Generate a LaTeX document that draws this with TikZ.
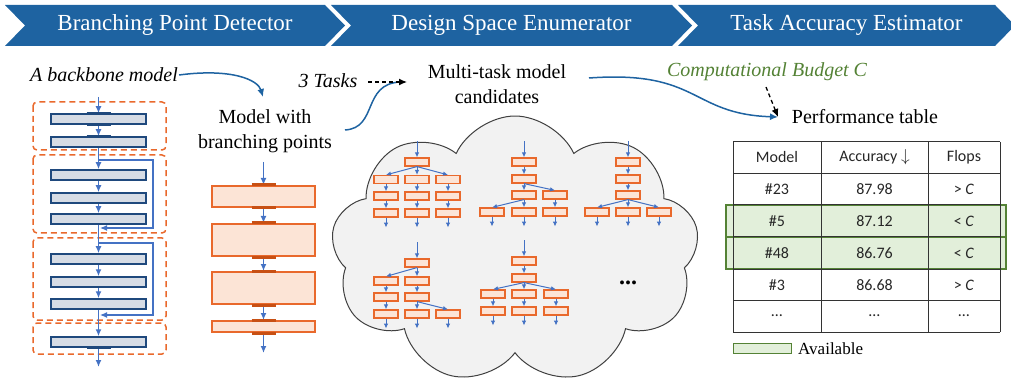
\documentclass[tikz,border=0pt]{standalone}
\usepackage{fontspec}
\setmainfont{Liberation Serif}[ItalicFont={Liberation Serif Italic}]
\newfontfamily\tablefont{Carlito}
\usepackage{tikz}
\usetikzlibrary{shapes,arrows}
\usetikzlibrary{arrows.meta}
\definecolor{headblue}{RGB}{30,99,161}
\definecolor{flowblue}{RGB}{68,114,196}
\definecolor{barfill}{RGB}{214,220,229}
\definecolor{bardraw}{RGB}{31,73,125}
\definecolor{boxfill}{RGB}{252,228,214}
\definecolor{boxdraw}{RGB}{233,105,44}
\definecolor{boxmark}{RGB}{200,80,20}
\definecolor{availfill}{RGB}{226,239,218}
\definecolor{availdraw}{RGB}{84,130,53}
\definecolor{cloudfill}{RGB}{242,242,242}
\tikzset{
  headtext/.style={text=white, font=\fontsize{23}{28}\selectfont},
  bodytext/.style={font=\fontsize{20}{25}\selectfont, align=center, inner sep=1pt},
  stagebox/.style={draw=boxdraw, line width=1.5pt, rounded corners=4pt, dash pattern=on 6pt off 4pt},
  bbbar/.style={rectangle, draw=bardraw, fill=barfill, line width=1.5pt, minimum width=95pt, minimum height=10pt, inner sep=0pt},
  bbmark/.style={draw=bardraw, line width=3pt},
  bpbox/.style={rectangle, draw=boxdraw, fill=boxfill, line width=2pt, minimum width=103pt, inner sep=0pt},
  bpmark/.style={draw=boxmark, line width=3pt},
  minibox/.style={rectangle, draw=boxdraw, fill=boxfill, line width=1.2pt, minimum width=24pt, minimum height=8pt, inner sep=0pt},
  flow/.style={draw=flowblue, line width=1.5pt, -{Latex[length=7pt,width=6pt]}},
  skipflow/.style={draw=flowblue, line width=1.2pt, -{Latex[length=7pt,width=6pt]}},
  miniflow/.style={draw=flowblue, line width=1pt, -{Latex[length=5pt,width=4.5pt]}},
  curvearrow/.style={draw=headblue, line width=1.5pt, -{Latex[length=8pt,width=7pt]}},
  dasharrow/.style={draw=black, line width=1.3pt, dash pattern=on 4pt off 3pt, -{Latex[length=8pt,width=7pt]}},
  tablerule/.style={draw=black!80, line width=1pt},
  cell/.style={font=\tablefont\fontsize{16}{19}\selectfont, text=black!85, inner sep=1pt},
}
\newcommand{\stagehead}[4] {\fill [headblue] (#1,5) -- (#2,5) -- (#2+20,25.5) -- (#2,46) -- (#1,46) -- (#1+20,25.5) -- cycle; \node at ({(#1+#2)/2+10},25.5) (#4) [headtext] {#3};}
\newcommand{\bbbar}[2] {\node at (#1) (#2) [bbbar] {};}
\newcommand{\bpbox}[3] {\node at (#1) (#2) [bpbox, minimum height=#3] {};}
\newcommand{\minibox}[2] {\node at (#1) (#2) [minibox] {};}
\newcommand{\minilink}[2] {\draw [miniflow] (#1.south) -- (#2.north);}
\newcommand{\miniin}[1] {\coordinate (#1i) at ([yshift=16pt]#1.north); \draw [miniflow] (#1i) -- (#1.north);}
\newcommand{\miniout}[1] {\coordinate (#1o) at ([yshift=-10pt]#1.south); \draw [miniflow] (#1.south) -- (#1o);}

\begin{document}
\begin{tikzpicture}[x=1pt, y=-1pt]
\useasboundingbox (0,0) rectangle (1011,387);

% stage headers
\stagehead {5} {325} {Branching Point Detector} {detector};
\stagehead {331} {672} {Design Space Enumerator} {enumerator};
\stagehead {678} {995} {Task Accuracy Estimator} {estimator};

% backbone model
\node at (104,75) (backbone) [bodytext, font=\fontsize{20}{25}\selectfont\itshape] {A backbone model};
\draw [stagebox] (33,102) rectangle (166,150);
\draw [stagebox] (33,155) rectangle (166,233);
\draw [stagebox] (33,238) rectangle (166,320);
\draw [stagebox] (33,323) rectangle (166,354);

\bbbar {98.5,119} {b1};
\bbbar {98.5,142} {b2};
\bbbar {98.5,175} {b3};
\bbbar {98.5,198} {b4};
\bbbar {98.5,219} {b5};
\bbbar {98.5,259} {b6};
\bbbar {98.5,282} {b7};
\bbbar {98.5,304} {b8};
\bbbar {98.5,342} {b9};

\coordinate (bbin) at (98.5,97);
\coordinate (bbout) at (98.5,367);
\draw [flow] (bbin) -- (b1);
\foreach \a/\b in {b1/b2,b2/b3,b3/b4,b4/b5,b5/b6,b6/b7,b7/b8,b8/b9}
  \draw [flow] (\a) -- (\b);
\draw [flow] (b9) -- (bbout);

% skip connections
\coordinate (skipa) at (98.5,160);
\coordinate (skipb) at (100,228);
\coordinate (skipc) at (98.5,243);
\coordinate (skipd) at (100,315);
\draw [skipflow] (skipa) -- (153,160) -- (153,228) -- (skipb);
\draw [skipflow] (skipc) -- (153,243) -- (153,315) -- (skipd);

\draw [bbmark] ([xshift=-12pt]b1.north) -- ([xshift=12pt]b1.north);
\draw [bbmark] ([xshift=-12pt]b1.south) -- ([xshift=12pt]b1.south);
\draw [bbmark] ([xshift=-12pt]b2.north) -- ([xshift=12pt]b2.north);
\draw [bbmark] ([xshift=-12pt]b9.south) -- ([xshift=12pt]b9.south);

% model with branching points
\node at (265,131) (branch) [bodytext] {Model with\\branching points};
\coordinate (tobranch) at (263,97);
\draw [curvearrow] (backbone.east) .. controls (232,68) and (258,80) .. (tobranch);

\bpbox {263.5,196.5} {m1} {21pt};
\bpbox {263.5,240} {m2} {32pt};
\bpbox {263.5,288} {m3} {32pt};
\bpbox {263.5,326.5} {m4} {11pt};
\coordinate (bpin) at (263.5,162);
\coordinate (bpout) at (263.5,353);
\draw [flow] (bpin) -- (m1);
\draw [flow] (m1) -- (m2);
\draw [flow] (m2) -- (m3);
\draw [flow] (m3) -- (m4);
\draw [flow] (m4) -- (bpout);
\foreach \m in {m1,m2,m3,m4} {
  \draw [bpmark] ([xshift=-12pt]\m.north) -- ([xshift=12pt]\m.north);
  \draw [bpmark] ([xshift=-12pt]\m.south) -- ([xshift=12pt]\m.south);
}

% tasks and candidates
\node at (328,81) (tasks) [bodytext, font=\fontsize{20}{25}\selectfont\itshape] {3 Tasks};
\node at (497,84) (candidates) [bodytext] {Multi-task model\\candidates};
\coordinate (tocand) at (407,82);
\coordinate (fromtask) at (368,82);
\coordinate (curvestart) at (345,130);
\draw [draw=headblue, line width=1.5pt] (curvestart) .. controls (378,128) and (362,84) .. (400,82);
\draw [dasharrow] (fromtask) -- (tocand);

% design space cloud
\node at (515,250) (space) [cloud, draw=black!75, fill=cloudfill, line width=1pt, cloud puffs=9, cloud puff arc=130, aspect=1.35, minimum width=368pt, minimum height=268pt, inner sep=0pt] {};

% candidate 1
\minibox {417,162} {a0};
\foreach \c/\x in {1/386,2/417,3/448} {
  \minibox {\x,179.5} {a1\c};
  \minibox {\x,196} {a2\c};
  \minibox {\x,213} {a3\c};
  \minilink {a0} {a1\c};
  \minilink {a1\c} {a2\c};
  \minilink {a2\c} {a3\c};
  \miniout {a3\c};
}
\miniin {a0};

% candidate 2
\minibox {524,162} {c2r};
\minibox {524,179} {c2a};
\minibox {524,195} {c2b};
\minibox {555,195} {c2c};
\minibox {492,212} {c2d};
\minibox {524,212} {c2e};
\minibox {555,212} {c2f};
\miniin {c2r};
\minilink {c2r} {c2a};
\minilink {c2a} {c2b};
\minilink {c2a} {c2c};
\minilink {c2b} {c2d};
\minilink {c2b} {c2e};
\minilink {c2c} {c2f};
\miniout {c2d}; \miniout {c2e}; \miniout {c2f};

% candidate 3
\minibox {628,162} {c3r};
\minibox {628,179} {c3a};
\minibox {628,195} {c3b};
\minibox {597,212} {c3d};
\minibox {628,212} {c3e};
\minibox {659,212} {c3f};
\miniin {c3r};
\minilink {c3r} {c3a};
\minilink {c3a} {c3b};
\minilink {c3b} {c3d};
\minilink {c3b} {c3e};
\minilink {c3b} {c3f};
\miniout {c3d}; \miniout {c3e}; \miniout {c3f};

% candidate 4
\minibox {417,263} {c4r};
\minibox {386,281} {c4a};
\minibox {417,281} {c4b};
\minibox {386,297} {c4c};
\minibox {417,297} {c4d};
\minibox {386,314} {c4e};
\minibox {417,314} {c4f};
\minibox {448,314} {c4g};
\miniin {c4r};
\minilink {c4r} {c4a};
\minilink {c4r} {c4b};
\minilink {c4a} {c4c};
\minilink {c4c} {c4e};
\minilink {c4b} {c4d};
\minilink {c4d} {c4f};
\minilink {c4d} {c4g};
\miniout {c4e}; \miniout {c4f}; \miniout {c4g};

% candidate 5
\minibox {524,261} {c5r};
\minibox {524,278} {c5a};
\miniin {c5r};
\minilink {c5r} {c5a};
\foreach \c/\x in {1/493,2/524,3/556} {
  \minibox {\x,294} {c5b\c};
  \minibox {\x,311} {c5c\c};
  \minilink {c5a} {c5b\c};
  \minilink {c5b\c} {c5c\c};
  \miniout {c5c\c};
}
\node at (628,283) (more) [font=\fontsize{24}{24}\selectfont\bfseries] {...};

% budget and performance table
\node at (767,72) (budget) [bodytext, text=availdraw, font=\fontsize{20}{25}\selectfont\itshape] {Computational Budget C};
\node at (865,117) (perf) [bodytext] {Performance table};
\coordinate (fromcand) at (589,78);
\coordinate (toperf) at (778,117);
\coordinate (frombudget) at (766,87);
\draw [curvearrow] (fromcand) .. controls (700,70) and (690,114) .. (toperf);
\draw [dasharrow] (frombudget) -- (toperf);

\draw [draw=availdraw, fill=availfill, line width=1.5pt] (726,205) rectangle (1006,237);
\draw [draw=availdraw, fill=availfill, line width=1.5pt] (726,237) rectangle (1006,269);
\foreach \y in {142,173.5,205,237,269,300.5,332}
  \draw [tablerule] (733,\y) -- (1000,\y);
\foreach \x in {733,821,928,1000}
  \draw [tablerule] (\x,142) -- (\x,332);

\foreach \r/\y/\m/\a/\f in {0/157.5/Model/Accuracy $\downarrow$/Flops,
    1/189/\#23/87.98/{> \textit{C}}, 2/221/\#5/87.12/{< \textit{C}},
    3/253/\#48/86.76/{< \textit{C}}, 4/285/\#3/86.68/{> \textit{C}},
    5/316/\ldots/\ldots/\ldots} {
  \node at (777,\y) (model\r) [cell] {\m};
  \node at (874.5,\y) (acc\r) [cell] {\a};
  \node at (964,\y) (flops\r) [cell] {\f};
}

% legend
\node at (762.5,348.5) (legendbox) [rectangle, draw=availdraw, fill=availfill, line width=1.5pt, minimum width=58pt, minimum height=10pt, inner sep=0pt] {};
\node at (798,348.5) (legend) [anchor=west, font=\fontsize{17}{20}\selectfont, inner sep=0pt] {Available};
\end{tikzpicture}
\end{document}
